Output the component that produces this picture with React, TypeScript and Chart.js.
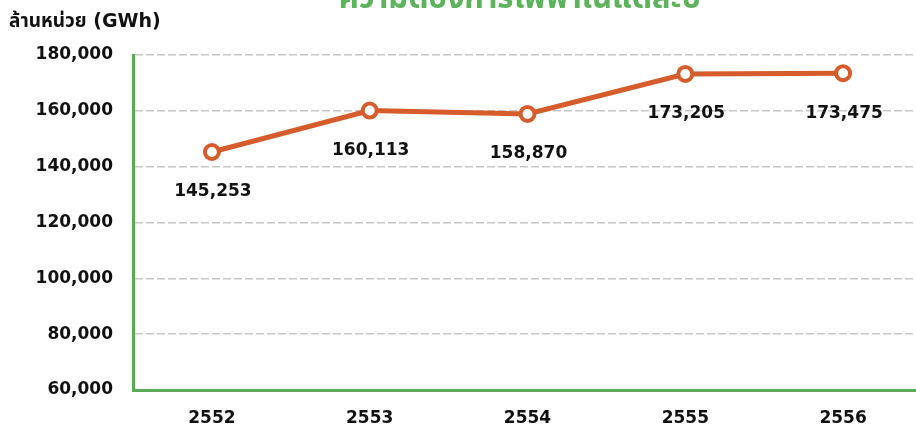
import React, { useEffect, useRef } from "react";
import { Chart, registerables } from "chart.js";

Chart.register(...registerables);

const categories = ["2552", "2553", "2554", "2555", "2556"];
const demand = [145253, 160113, 158870, 173205, 173475];
const chartTitle = "ความต้องการไฟฟ้าในแต่ละปี";
const yAxisTitle = "ล้านหน่วย (GWh)";
const yMin = 60000;
const yMax = 180000;
const yStep = 20000;

const FONT = '"DejaVu Sans", "Noto Sans Thai", "Noto Sans", sans-serif';
const GREEN = "#5aaa5a";
const ORANGE = "#d65c2b";
const CANVAS_W = 933;

const textPlugin = {
  id: "textPlugin",
  afterDatasetsDraw(chart: any) {
    const ctx = chart.ctx;
    ctx.save();
    // title (partially clipped by top edge)
    ctx.fillStyle = "#5cb35c";
    ctx.font = `bold 31px ${FONT}`;
    ctx.textAlign = "center";
    ctx.textBaseline = "alphabetic";
    ctx.fillText(chartTitle, 520, 8);
    // y axis title
    ctx.fillStyle = "#111";
    ctx.font = `bold 19px ${FONT}`;
    ctx.textAlign = "left";
    ctx.textBaseline = "middle";
    ctx.fillText(yAxisTitle, 9, 22);
    // data labels
    ctx.font = `bold 17px ${FONT}`;
    const meta = chart.getDatasetMeta(0);
    ctx.textAlign = "center";
    ctx.textBaseline = "middle";
    meta.data.forEach((pt: any, i: number) => {
      ctx.fillText(demand[i].toLocaleString("en-US"), pt.x + 1, pt.y + 40);
    });
    ctx.restore();
  },
};

export default function App() {
  const ref = useRef<HTMLCanvasElement | null>(null);
  useEffect(() => {
    document.body.style.overflow = "hidden";
    const chart = new Chart(ref.current!, {
      type: "line",
      data: {
        labels: categories,
        datasets: [
          {
            data: demand,
            borderColor: ORANGE,
            borderWidth: 5,
            pointRadius: 7,
            pointBorderWidth: 4,
            pointBackgroundColor: "#ffffff",
            pointBorderColor: ORANGE,
            tension: 0,
          },
        ],
      },
      options: {
        animation: false,
        responsive: false,
        maintainAspectRatio: false,
        layout: { padding: { top: 55, left: 0, right: 2, bottom: 0 } },
        plugins: { legend: { display: false }, tooltip: { enabled: false } },
        scales: {
          x: {
            offset: true,
            grid: { display: false, drawTicks: false },
            border: { color: GREEN, width: 3 },
            ticks: { color: "#111", font: { family: FONT, size: 17, weight: "bold" }, padding: 18 },
            afterFit: (s: any) => {
              s.height = 39;
            },
          },
          y: {
            min: yMin,
            max: yMax,
            ticks: {
              stepSize: yStep,
              color: "#111",
              padding: 20,
              font: { family: FONT, size: 17, weight: "bold" },
              callback: (v: any) => Number(v).toLocaleString("en-US"),
            },
            grid: { color: "#c8c8c8", lineWidth: 1.5, drawTicks: false },
            border: { color: GREEN, width: 3, dash: [8, 3] },
            afterFit: (s: any) => {
              s.width = 133;
            },
          },
        },
      },
      plugins: [textPlugin],
    } as any);
    return () => chart.destroy();
  }, []);
  return (
    <div style={{ position: "fixed", left: 0, top: 0, width: CANVAS_W, height: 429 }}>
      <canvas ref={ref} width={CANVAS_W} height={429} style={{ width: CANVAS_W, height: 429, display: "block" }} />
    </div>
  );
}
